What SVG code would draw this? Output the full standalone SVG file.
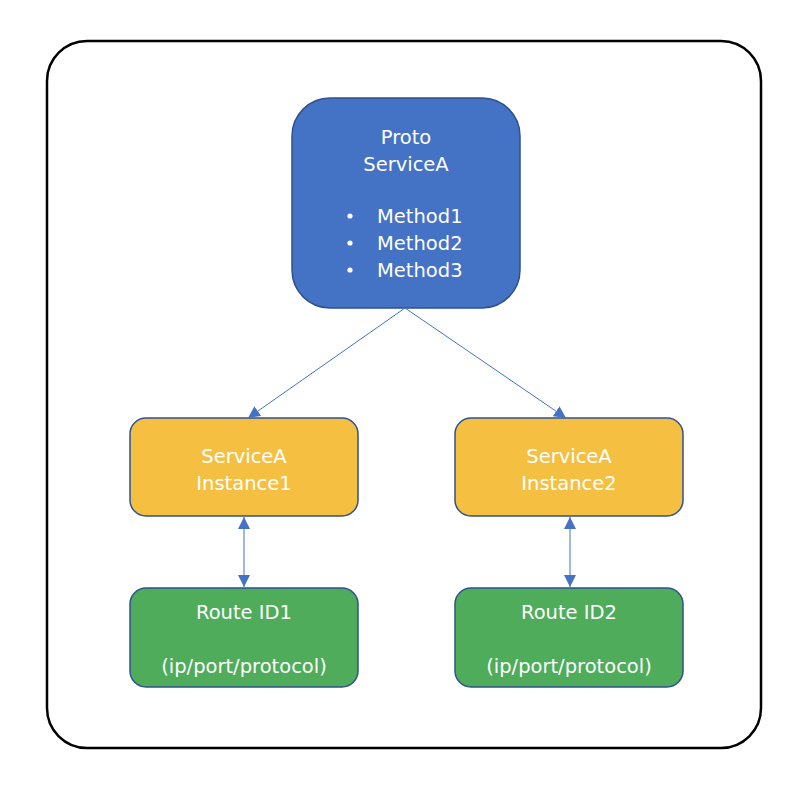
<svg xmlns="http://www.w3.org/2000/svg" width="812" height="796" viewBox="0 0 812 796">
<style>
text{font-family:"DejaVu Sans","Open Sans",sans-serif;font-size:19.5px;fill:#fff;text-anchor:middle}
.s{text-anchor:start}
.b{fill:#4472C4;stroke:#2F528F;stroke-width:1.5}
.y{fill:#F5BF42;stroke:#2F528F;stroke-width:1.5}
.g{fill:#4EAC5B;stroke:#2F528F;stroke-width:1.5}
.c{stroke:#4472C4;stroke-width:1;fill:none}
</style>
<defs>
<marker id="ah" viewBox="0 0 10 10" refX="10" refY="5" markerWidth="12" markerHeight="12" markerUnits="userSpaceOnUse" orient="auto-start-reverse"><path d="M0,0L10,5L0,10z" fill="#4472C4"/></marker>
</defs>
<rect x="47" y="41" width="714" height="707" rx="40" fill="#fff" stroke="#000" stroke-width="2.5"/>
<g id="proto">
<rect class="b" x="292" y="98" width="228" height="210" rx="38"/>
<text x="406" y="144">Proto</text>
<text x="406" y="171">ServiceA</text>
<circle cx="350" cy="216" r="2.6" fill="#fff"/>
<circle cx="350" cy="243" r="2.6" fill="#fff"/>
<circle cx="350" cy="270" r="2.6" fill="#fff"/>
<text class="s" x="377" y="223">Method1</text>
<text class="s" x="377" y="250">Method2</text>
<text class="s" x="377" y="277">Method3</text>
</g>
<g id="inst1">
<rect class="y" x="130" y="418" width="228" height="98" rx="16"/>
<text x="244" y="463">ServiceA</text>
<text x="244" y="490">Instance1</text>
</g>
<g id="inst2">
<rect class="y" x="455" y="418" width="228" height="98" rx="16"/>
<text x="569" y="463">ServiceA</text>
<text x="569" y="490">Instance2</text>
</g>
<g id="route1">
<rect class="g" x="130" y="588" width="228" height="99" rx="16"/>
<text x="244" y="619">Route ID1</text>
<text x="244" y="673">(ip/port/protocol)</text>
</g>
<g id="route2">
<rect class="g" x="455" y="588" width="228" height="99" rx="16"/>
<text x="569" y="619">Route ID2</text>
<text x="569" y="673">(ip/port/protocol)</text>
</g>
<g id="connectors">
<line class="c" x1="405" y1="308" x2="248" y2="418" marker-end="url(#ah)"/>
<line class="c" x1="405" y1="308" x2="566" y2="418" marker-end="url(#ah)"/>
<line class="c" x1="244" y1="517" x2="244" y2="587" marker-start="url(#ah)" marker-end="url(#ah)"/>
<line class="c" x1="570" y1="517" x2="570" y2="587" marker-start="url(#ah)" marker-end="url(#ah)"/>
</g>
</svg>
